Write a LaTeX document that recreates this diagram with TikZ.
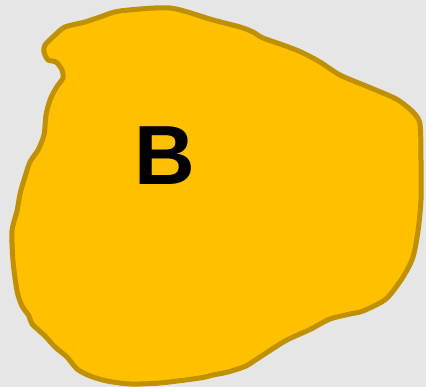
\documentclass[tikz,border=0pt]{standalone}
\usepackage{fontspec}
\usepackage{tikz}
\usetikzlibrary{positioning}
\setmainfont{Liberation Sans}
\definecolor{pagegray}{RGB}{230,230,230}
\definecolor{blobfill}{RGB}{255,192,0}
\definecolor{blobedge}{RGB}{191,144,0}
\tikzset{blob/.style={fill=blobfill, draw=blobedge, line width=5pt, line join=round}}

\begin{document}
\begin{tikzpicture}[x=1pt, y=-1pt]

% Background
\fill[pagegray] (0,0) rectangle (426,387);
\useasboundingbox (0,0) rectangle (426,387);

% Region outline
\draw[blob] plot[smooth cycle, tension=0.45] coordinates {
  (170,8) (213,20) (240,27) (253,32) (263,38) (283,45) (301,52) (320,62)
  (340,75) (366,86) (383,93) (398,100) (413,112) (420,124) (421,160)
  (421,200) (418,231) (413,257) (403,277) (386,299) (363,311) (350,314)
  (330,319) (311,329) (300,334) (285,341) (260,357) (246,366) (228,372)
  (213,375) (200,378) (160,383) (130,384) (107,381) (90,376) (77,369)
  (67,357) (55,347) (45,336) (32,324) (29,316) (22,306) (17,291) (13,261)
  (12,231) (17,211) (20,194) (24,180) (30,162) (38,150) (44,135) (46,115)
  (50,100) (56,88) (63,78) (62,70) (56,62) (48,60) (44,52) (45,45)
  (55,35) (65,27) (85,22) (100,17) (120,11)};

% Label
\node[anchor=base, inner sep=0pt, font=\fontsize{84}{84}\selectfont\bfseries] (labelB) at (165,185) {B};

\end{tikzpicture}
\end{document}
